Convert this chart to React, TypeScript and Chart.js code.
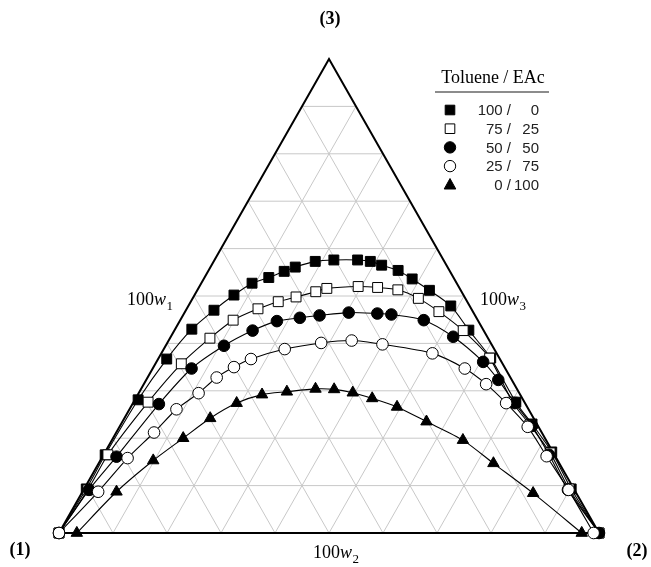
import React, { useEffect, useRef } from 'react';
import { Chart, registerables } from 'chart.js';

Chart.register(...registerables);

// ---- tick / label data ----
const gridTicks = [10, 20, 30, 40, 50, 60, 70, 80, 90];
const vertexLabels = ['(1)', '(2)', '(3)'];
const axisSubscripts = ['1', '2', '3'];
const legendTitle = 'Toluene / EAc';
const legendLeft = ['100 /', '75 /', '50 /', '25 /', '0 /'];
const legendRight = ['0', '25', '50', '75', '100'];

// ---- series data: 100w2 and 100w3 (100w1 = 100 - w2 - w3) ----
const tol100W2 = [0, 0.4, 0.3, 0.6, 1.6, 3.1, 5.2, 7.3, 9.4, 11.9, 14.1, 15.7, 18.8, 22.1, 26.5, 29.0, 31.5, 35.1, 38.6, 43.0, 48.6, 54.5, 61.5, 70.8, 76.1, 82.7, 90.2, 100];
const tol100W3 = [0, 9.3, 16.5, 28.1, 36.7, 43.0, 47.0, 50.2, 52.7, 53.9, 55.2, 56.1, 57.3, 57.6, 57.6, 57.3, 56.5, 55.4, 53.6, 51.2, 47.9, 42.8, 36.9, 27.6, 23.0, 17.1, 9.3, 0];

const tol75W2 = [0, 0.8, 0.8, 2.7, 4.8, 7.4, 9.8, 13.2, 16.2, 19.0, 22.1, 23.8, 29.4, 33.1, 37.1, 41.8, 47.0, 53.5, 61.3, 70.2, 75.8, 82.5, 89.8, 100];
const tol75W3 = [0, 9.1, 16.5, 27.6, 35.7, 41.1, 44.9, 47.3, 48.8, 49.8, 50.9, 51.6, 52.0, 51.8, 51.3, 49.5, 46.7, 42.7, 36.9, 27.6, 22.8, 16.9, 9.3, 0];

const tol50W2 = [0, 1.0, 2.6, 4.9, 7.2, 10.8, 14.5, 18.0, 21.9, 25.3, 30.4, 35.8, 38.5, 45.1, 52.3, 60.5, 65.2, 70.7, 76.3, 82.5, 89.7, 100];
const tol50W3 = [0, 9.1, 16.1, 27.2, 34.7, 39.5, 42.7, 44.7, 45.4, 45.9, 46.5, 46.3, 46.1, 44.9, 41.4, 36.1, 32.3, 27.4, 22.6, 16.5, 9.1, 0];

const tol25W2 = [0, 2.9, 4.8, 7.0, 8.7, 11.1, 12.8, 14.9, 17.2, 22.4, 28.5, 33.9, 40.0, 50.2, 57.8, 63.4, 69.1, 75.6, 82.2, 89.8, 99.0];
const tol25W3 = [0, 8.7, 15.8, 21.2, 26.1, 29.5, 32.8, 35.0, 36.7, 38.8, 40.1, 40.6, 39.8, 37.9, 34.7, 31.4, 27.4, 22.4, 16.2, 9.1, 0];

const tol0W2 = [3.3, 6.3, 9.8, 13.0, 15.9, 19.2, 23.0, 27.3, 32.3, 35.8, 39.6, 43.8, 49.3, 56.3, 65.0, 73.1, 83.6, 96.8];
const tol0W3 = [0, 8.7, 15.3, 20.0, 24.2, 27.4, 29.2, 29.8, 30.4, 30.3, 29.6, 28.4, 26.6, 23.5, 19.6, 14.7, 8.4, 0];

const seriesW2 = [tol100W2, tol75W2, tol50W2, tol25W2, tol0W2];
const seriesW3 = [tol100W3, tol75W3, tol50W3, tol25W3, tol0W3];

// ---- styles ----
const markerStyles = [
  { shape: 'rect', fill: '#000000', radius: 7, order: 4 },
  { shape: 'rect', fill: '#ffffff', radius: 7, order: 3 },
  { shape: 'circle', fill: '#000000', radius: 5.8, order: 2 },
  { shape: 'circle', fill: '#ffffff', radius: 5.8, order: 1 },
  { shape: 'triangle', fill: '#000000', radius: 6.6, order: 5 },
];

const SERIF = '"Liberation Serif", "DejaVu Serif", serif';
const SANS = '"Liberation Sans", Arial, sans-serif';

function toXY(w2: number[], w3: number[]) {
  return w2.map((v, i) => ({ x: v + w3[i] / 2, y: w3[i] }));
}

function drawMarker(ctx: CanvasRenderingContext2D, shape: string, fill: string, cx: number, cy: number) {
  ctx.save();
  ctx.fillStyle = fill;
  ctx.strokeStyle = '#000';
  ctx.lineWidth = 1;
  ctx.beginPath();
  if (shape === 'rect') {
    ctx.rect(cx - 4.8, cy - 4.8, 9.6, 9.6);
  } else if (shape === 'circle') {
    ctx.arc(cx, cy, 5.7, 0, Math.PI * 2);
  } else {
    ctx.moveTo(cx, cy - 6.3);
    ctx.lineTo(cx + 5.8, cy + 4.2);
    ctx.lineTo(cx - 5.8, cy + 4.2);
    ctx.closePath();
  }
  ctx.fill();
  ctx.stroke();
  ctx.restore();
}

function drawAxisLabel(ctx: CanvasRenderingContext2D, x: number, baseline: number, sub: string) {
  ctx.save();
  ctx.fillStyle = '#000';
  ctx.textAlign = 'left';
  ctx.textBaseline = 'alphabetic';
  ctx.font = `18px ${SERIF}`;
  ctx.fillText('100', x, baseline);
  let cx = x + ctx.measureText('100').width;
  ctx.font = `italic 18px ${SERIF}`;
  ctx.fillText('w', cx, baseline);
  cx += ctx.measureText('w').width + 0.5;
  ctx.font = `13px ${SERIF}`;
  ctx.fillText(sub, cx, baseline + 5);
  ctx.restore();
}

const ternaryPlugin = {
  id: 'ternaryFrame',
  beforeDatasetsDraw(chart: any) {
    const { ctx, scales } = chart;
    const xs = scales.x;
    const ys = scales.y;
    const P = (w2: number, w3: number) => [xs.getPixelForValue(w2 + w3 / 2), ys.getPixelForValue(w3)];
    ctx.save();
    ctx.strokeStyle = '#c8c8c8';
    ctx.lineWidth = 1;
    ctx.beginPath();
    const seg = (a: number[], b: number[]) => {
      ctx.moveTo(a[0], a[1]);
      ctx.lineTo(b[0], b[1]);
    };
    for (const t of gridTicks) {
      seg(P(0, t), P(100 - t, t));
      seg(P(t, 0), P(t, 100 - t));
      seg(P(100 - t, 0), P(0, 100 - t));
    }
    ctx.stroke();
    ctx.strokeStyle = '#000';
    ctx.lineWidth = 2;
    ctx.beginPath();
    const a = P(0, 0), b = P(100, 0), c = P(0, 100);
    ctx.moveTo(a[0], a[1]);
    ctx.lineTo(b[0], b[1]);
    ctx.lineTo(c[0], c[1]);
    ctx.closePath();
    ctx.stroke();
    ctx.restore();
  },
  afterDraw(chart: any) {
    const { ctx } = chart;
    ctx.save();
    ctx.fillStyle = '#000';
    // vertex labels
    ctx.font = `bold 18px ${SERIF}`;
    ctx.textAlign = 'center';
    ctx.textBaseline = 'alphabetic';
    ctx.fillText(vertexLabels[0], 20, 555);
    ctx.fillText(vertexLabels[1], 637, 556);
    ctx.fillText(vertexLabels[2], 330, 24);
    ctx.restore();

    // axis labels
    drawAxisLabel(ctx, 127, 305, axisSubscripts[0]);
    drawAxisLabel(ctx, 313, 558, axisSubscripts[1]);
    drawAxisLabel(ctx, 480, 305, axisSubscripts[2]);

    // legend
    ctx.save();
    ctx.fillStyle = '#000';
    ctx.font = `18px ${SERIF}`;
    ctx.textAlign = 'center';
    ctx.textBaseline = 'alphabetic';
    ctx.fillText(legendTitle, 493, 83);
    ctx.strokeStyle = '#666';
    ctx.lineWidth = 1.5;
    ctx.beginPath();
    ctx.moveTo(435, 92);
    ctx.lineTo(549, 92);
    ctx.stroke();
    ctx.font = `15px ${SANS}`;
    ctx.textBaseline = 'middle';
    const rowY = [110, 128.7, 147.4, 166.1, 184.8];
    for (let i = 0; i < legendLeft.length; i++) {
      drawMarker(ctx, markerStyles[i].shape, markerStyles[i].fill, 450, rowY[i]);
      ctx.fillStyle = '#222';
      ctx.textAlign = 'right';
      ctx.fillText(legendLeft[i], 511, rowY[i] + 1);
      ctx.fillText(legendRight[i], 539, rowY[i] + 1);
    }
    ctx.restore();
  },
};

export default function App() {
  const canvasRef = useRef<HTMLCanvasElement | null>(null);

  useEffect(() => {
    const canvas = canvasRef.current;
    if (!canvas) return;
    const datasets = seriesW2.map((w2, i) => ({
      label: `${legendLeft[i]} ${legendRight[i]}`,
      data: toXY(w2, seriesW3[i]),
      showLine: true,
      borderColor: '#000',
      borderWidth: 1.1,
      tension: 0.25,
      pointStyle: markerStyles[i].shape,
      pointRadius: markerStyles[i].radius,
      pointBackgroundColor: markerStyles[i].fill,
      pointBorderColor: '#000',
      pointBorderWidth: 1,
      order: markerStyles[i].order,
      clip: false,
    }));
    const chart = new Chart(canvas, {
      type: 'scatter',
      data: { datasets: datasets as any },
      options: {
        animation: false,
        responsive: false,
        maintainAspectRatio: false,
        layout: { padding: { left: 59, right: 52, top: 59, bottom: 34 } },
        scales: {
          x: { type: 'linear', min: 0, max: 100, display: false },
          y: { type: 'linear', min: 0, max: 100, display: false },
        },
        plugins: {
          legend: { display: false },
          tooltip: { enabled: false },
        },
      },
      plugins: [ternaryPlugin],
    });
    return () => chart.destroy();
  }, []);

  return (
    <div style={{ position: 'absolute', left: 0, top: 0, width: 651, height: 567, background: '#fff' }}>
      <canvas ref={canvasRef} width={651} height={567} style={{ width: 651, height: 567, display: 'block' }} />
    </div>
  );
}
